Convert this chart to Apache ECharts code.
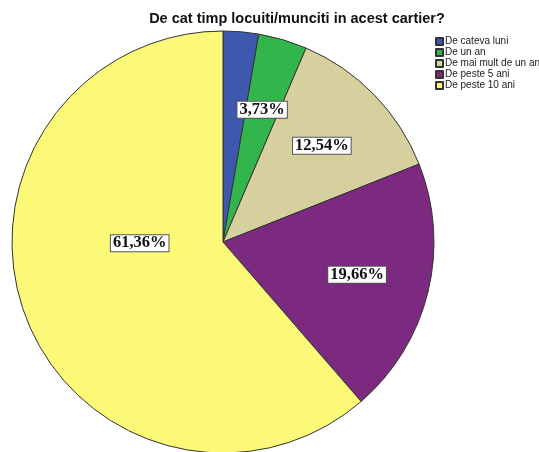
<!DOCTYPE html>
<html>
<head>
<meta charset="utf-8">
<script src="https://cdn.jsdelivr.net/npm/echarts@6/dist/echarts.min.js"></script>
<style>html,body{margin:0;padding:0;background:#fff;}#c{width:539px;height:452px;}</style>
</head>
<body>
<div id="c"></div>
<script>
var categories = ['De cateva luni', 'De un an', 'De mai mult de un an', 'De peste 5 ani', 'De peste 10 ani'];
var values = [2.71, 3.73, 12.54, 19.66, 61.36];
var colors = ['#3e58ad', '#32b64b', '#d6cf9e', '#7b2a7f', '#fcf878'];
var showLabel = [false, true, true, true, true];

var chart = echarts.init(document.getElementById('c'));
var center = [223, 242];
var pieData = categories.map(function (n, i) {
  return { name: n, value: values[i], itemStyle: { color: colors[i] } };
});
var labelData = categories.map(function (n, i) {
  var d = { name: n, value: values[i], label: { show: showLabel[i] } };
  if (i === 4) d.label.offset = [46, -47];
  return d;
});
chart.setOption({
  animation: false,
  title: {
    text: 'De cat timp locuiti/munciti in acest cartier?',
    left: 292, top: 6, textAlign: 'center',
    textStyle: { fontFamily: 'Liberation Sans', fontWeight: 'bold', fontSize: 14.5, color: '#111' }
  },
  legend: {
    orient: 'vertical', left: 430, top: 31,
    itemWidth: 7, itemHeight: 7, itemGap: 0,
    icon: 'rect',
    data: categories,
    textStyle: { fontFamily: 'Liberation Sans', fontSize: 10, lineHeight: 11, color: '#222', padding: [0, 0, 0, -3] },
    selectedMode: false
  },
  series: [
    {
      type: 'pie', center: center, radius: [0, 211],
      startAngle: 90, clockwise: true, silent: true,
      data: pieData,
      label: { show: false }, labelLine: { show: false },
      itemStyle: { borderColor: '#333', borderWidth: 1 }
    },
    {
      type: 'pie', center: center, radius: [60, 210],
      startAngle: 90, clockwise: true, silent: true,
      legendHoverLink: false,
      data: labelData,
      itemStyle: { color: 'rgba(0,0,0,0)', borderWidth: 0 },
      labelLine: { show: false },
      label: {
        position: 'inside',
        formatter: function (p) { return p.value.toFixed(2).replace('.', ',') + '%'; },
        fontFamily: 'Liberation Serif', fontWeight: 'bold', fontSize: 16.5, color: '#111',
        lineHeight: 14,
        backgroundColor: '#fff', borderColor: '#555', borderWidth: 1, padding: [1, 2]
      }
    }
  ]
});
</script>
</body>
</html>
